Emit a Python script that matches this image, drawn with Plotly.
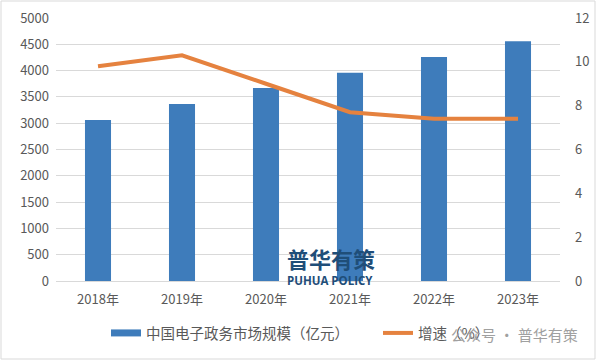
import plotly.graph_objects as go

years = ["2018年", "2019年", "2020年", "2021年", "2022年", "2023年"]
market_size = [3060, 3365, 3670, 3960, 4260, 4560]
growth = [9.8, 10.3, 9.0, 7.7, 7.4, 7.4]
bar_name = "中国电子政务市场规模（亿元）"
line_name = "增速（%）"
left_ticks = [0, 500, 1000, 1500, 2000, 2500, 3000, 3500, 4000, 4500, 5000]
right_ticks = [0, 2, 4, 6, 8, 10, 12]

font = "Noto Sans CJK SC, Microsoft YaHei, sans-serif"
grey = "#595959"
bar_color = "#3E7CBB"

fig = go.Figure()
fig.add_trace(go.Bar(
    x=years, y=market_size, name=bar_name, showlegend=False,
    marker=dict(color=bar_color, line=dict(width=0)),
    width=0.31,
))
# legend entry for the bar series, drawn as a wide flat block like the original
fig.add_trace(go.Scatter(
    x=[None], y=[None], name=bar_name, mode="lines", legend="legend",
    line=dict(color=bar_color, width=7),
))
fig.add_trace(go.Scatter(
    x=years, y=growth, name=line_name, yaxis="y2", legend="legend2",
    mode="lines", line=dict(color="#E5823F", width=4),
))

legend_common = dict(orientation="h", xanchor="left", yref="container",
                     y=1 - 333 / 361, yanchor="middle",
                     font=dict(size=14.5, color=grey), itemwidth=30,
                     bgcolor="rgba(0,0,0,0)")

fig.update_layout(
    width=601, height=361,
    margin=dict(l=56, r=41, t=18, b=80, autoexpand=False),
    paper_bgcolor="white", plot_bgcolor="white",
    font=dict(family=font, size=13, color=grey),
    showlegend=True,
    legend=dict(x=(106 - 56) / 504, **legend_common),
    legend2=dict(x=(378 - 56) / 504, **legend_common),
    xaxis=dict(showgrid=False, showline=True, linecolor="#D9D9D9", ticks="",
               ticklabelstandoff=6,
               automargin=False, tickfont=dict(size=13, color=grey)),
    yaxis=dict(range=[0, 5000], tickvals=left_ticks, showgrid=True, gridcolor="#D9D9D9",
               ticklabelstandoff=6,
               automargin=False, zeroline=False, ticks="", tickfont=dict(size=13, color=grey)),
    yaxis2=dict(range=[0, 12], tickvals=right_ticks, overlaying="y", side="right",
                ticklabelstandoff=14,
                automargin=False, showgrid=False, zeroline=False, ticks="",
                tickfont=dict(size=13, color=grey)),
    bargap=0.69,
)

fig.add_shape(type="rect", xref="paper", yref="paper",
              x0=-55/504, x1=539/504, y0=(281-359)/263, y1=(281-1)/263,
              line=dict(color="#D9D9D9", width=1), fillcolor="rgba(0,0,0,0)")

fig.add_annotation(text="<b>普华有策</b>", xref="paper", yref="paper",
                   x=(331-56)/504, y=(281-258)/263, xanchor="center", yanchor="middle",
                   showarrow=False,
                   font=dict(family=font, size=22, color="#1F4E79"))
fig.add_annotation(text="<b>PUHUA POLICY</b>", xref="paper", yref="paper",
                   x=(330-56)/504, y=(281-280)/263, xanchor="center", yanchor="middle",
                   showarrow=False,
                   font=dict(family="Open Sans, sans-serif", size=11.5, color="#1F4E79"))
fig.add_annotation(text="公众号 · 普华有策", xref="paper", yref="paper",
                   x=(514-56)/504, y=(281-334)/263, xanchor="center", yanchor="middle",
                   showarrow=False,
                   font=dict(family=font, size=15, color="#A0A0A0"))

fig.write_html("out.html", config={"displayModeBar": False},
               post_script="document.body.style.margin='0';document.body.style.overflow='hidden';")
